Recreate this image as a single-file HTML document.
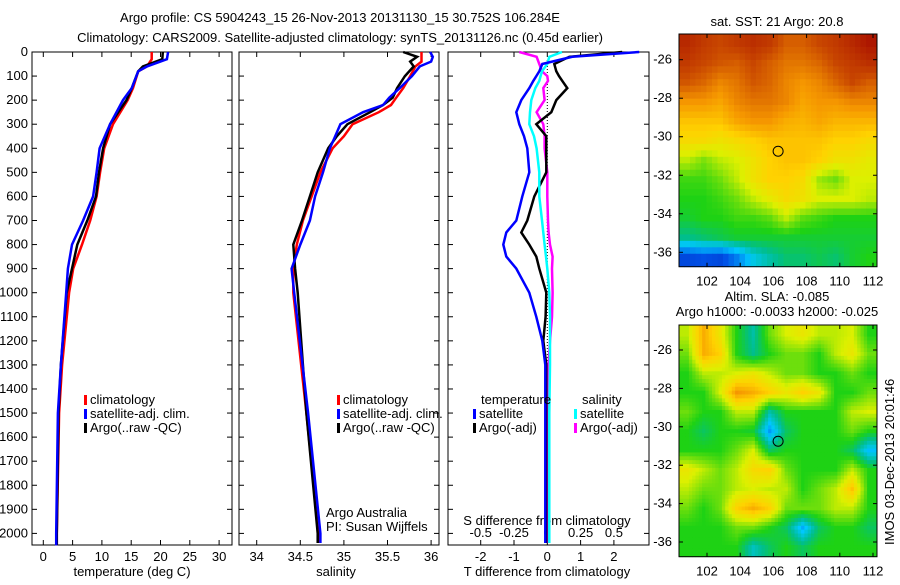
<!DOCTYPE html>
<html><head><meta charset="utf-8"><style>
body{margin:0;background:#fff;width:900px;height:580px;overflow:hidden}
svg{font-family:"Liberation Sans",sans-serif;font-size:13px}
</style></head><body>
<svg id="c" width="900" height="580" xmlns="http://www.w3.org/2000/svg"></svg>
<script>
// ---- data ----
const tDepth=[0,30,60,80,150,200,300,400,500,600,700,800,900,1000,1300,1500,2000,2050];
const tClim=[18.5,18.5,17.7,16.2,15.3,14.4,11.9,10.4,9.7,9.1,8.0,6.6,5.1,4.4,3.2,2.7,2.3,2.3];
const tSat=[21.3,21.1,17.7,16.2,15.1,13.6,11.4,9.6,9.1,8.5,6.8,4.9,4.2,3.9,3.0,2.5,2.2,2.2];
const tArgo=[20.4,20.3,17.0,16.2,15.1,14.2,11.4,10.2,9.5,9.0,7.5,5.8,4.9,4.0,3.0,2.6,2.3,2.3];
const sDepth=[0,20,40,60,100,150,190,220,250,300,350,400,500,600,700,800,900,1000,1500,2000,2040];
const sClim=[35.89,35.89,35.89,35.82,35.76,35.68,35.6,35.54,35.40,35.10,35.0,34.87,34.73,34.63,34.53,34.46,34.42,34.42,34.57,34.71,34.71];
const sSat=[35.99,36.02,36.0,35.87,35.78,35.64,35.52,35.45,35.22,34.96,34.9,34.84,34.76,34.67,34.61,34.50,34.40,34.43,34.59,34.73,34.73];
const sArgo=[35.68,35.84,35.76,35.80,35.70,35.61,35.56,35.45,35.30,35.04,34.92,34.82,34.70,34.61,34.52,34.42,34.44,34.47,34.57,34.70,34.70];
const dDepth=[0,20,50,80,100,120,150,200,250,300,350,400,500,600,700,750,800,850,900,1000,1100,1200,1300,1500,2000,2040];
const dTSat=[2.76,0.75,-0.15,-0.24,-0.33,-0.42,-0.54,-0.78,-0.93,-0.84,-0.7,-0.6,-0.54,-0.75,-0.93,-1.23,-1.32,-1.23,-0.93,-0.54,-0.33,-0.15,-0.06,-0.06,-0.06,-0.06];
const dTArgo=[2.25,0.66,0.21,0.27,0.35,0.45,0.6,0.27,0.12,-0.33,-0.03,-0.03,-0.03,-0.39,-0.6,-0.78,-0.54,-0.33,-0.24,-0.03,-0.05,-0.12,-0.03,-0.03,-0.03,-0.03];
const dSSat=[0.11,0.015,0,-0.04,-0.05,-0.06,-0.09,-0.12,-0.13,-0.135,-0.1,-0.08,-0.06,-0.06,-0.04,-0.03,-0.02,-0.01,0,0.015,0.02,0.02,0.02,0.015,0.015,0.015];
const dSArgo=[-0.21,-0.08,-0.06,-0.04,0,0.005,-0.03,-0.02,-0.08,-0.03,-0.02,-0.02,0,0,0.005,0.01,0.02,0.04,0.035,0.04,0.035,0.02,0.01,0.01,0.005,0.005];
const sstGrid=[
[0.93,0.9,0.88,0.9,0.92,0.9,0.85,0.85,0.88,0.9,0.93,0.96],
[0.9,0.88,0.86,0.85,0.88,0.85,0.82,0.82,0.84,0.88,0.9,0.92],
[0.86,0.84,0.8,0.82,0.86,0.84,0.8,0.78,0.8,0.84,0.88,0.85],
[0.78,0.78,0.76,0.8,0.82,0.82,0.8,0.76,0.78,0.78,0.8,0.8],
[0.72,0.72,0.72,0.76,0.78,0.78,0.75,0.74,0.76,0.74,0.74,0.74],
[0.68,0.68,0.66,0.68,0.7,0.72,0.72,0.72,0.72,0.7,0.7,0.68],
[0.6,0.56,0.6,0.62,0.66,0.7,0.72,0.72,0.7,0.66,0.66,0.64],
[0.52,0.52,0.55,0.6,0.66,0.7,0.7,0.68,0.58,0.55,0.62,0.62],
[0.5,0.5,0.52,0.55,0.6,0.64,0.68,0.66,0.62,0.62,0.62,0.6],
[0.48,0.5,0.5,0.52,0.52,0.54,0.6,0.54,0.52,0.5,0.5,0.5],
[0.42,0.44,0.46,0.48,0.48,0.48,0.48,0.48,0.48,0.48,0.48,0.48],
[0.18,0.2,0.18,0.25,0.35,0.4,0.44,0.44,0.46,0.44,0.48,0.5]];
const slaGrid=[
[0.6,0.75,0.65,0.5,0.4,0.55,0.62,0.65,0.6,0.6,0.62,0.5],
[0.55,0.75,0.7,0.5,0.42,0.5,0.55,0.55,0.5,0.6,0.65,0.55],
[0.5,0.6,0.6,0.62,0.65,0.6,0.55,0.55,0.5,0.5,0.55,0.5],
[0.5,0.5,0.62,0.78,0.75,0.7,0.65,0.7,0.65,0.5,0.5,0.55],
[0.55,0.5,0.5,0.6,0.6,0.4,0.5,0.5,0.5,0.5,0.6,0.62],
[0.5,0.45,0.5,0.5,0.48,0.28,0.45,0.5,0.5,0.5,0.55,0.5],
[0.5,0.5,0.5,0.55,0.62,0.45,0.5,0.5,0.5,0.5,0.45,0.32],
[0.65,0.6,0.55,0.6,0.68,0.7,0.55,0.5,0.5,0.5,0.6,0.5],
[0.6,0.55,0.55,0.6,0.62,0.6,0.6,0.5,0.55,0.6,0.72,0.5],
[0.55,0.5,0.55,0.7,0.75,0.7,0.55,0.55,0.55,0.6,0.6,0.5],
[0.5,0.5,0.5,0.55,0.55,0.5,0.45,0.3,0.45,0.5,0.5,0.45],
[0.5,0.5,0.5,0.5,0.38,0.45,0.5,0.45,0.5,0.5,0.5,0.5]];
const depthTicks=[0,100,200,300,400,500,600,700,800,900,1000,1100,1200,1300,1400,1500,1600,1700,1800,1900,2000];
const tTicks=[0,5,10,15,20,25,30];
const sTicks=[34,34.5,35,35.5,36];
const dTTicks=[-2,-1,0,1,2];
const dSTicks=[-0.5,-0.25,0,0.25,0.5];
const lonTicks=[102,104,106,108,110,112];
const latTicks=[-26,-28,-30,-32,-34,-36];

// ---- helpers ----
const svg=document.getElementById('c');
const NS='http://www.w3.org/2000/svg';
function mk(tag,at,txt){const e=document.createElementNS(NS,tag);for(const k in at)e.setAttribute(k,at[k]);if(txt!==undefined)e.textContent=txt;svg.appendChild(e);return e;}
const yD=d=>52+d*0.2407;
const xT=t=>43.3+5.86*t;
const xS=s=>256.7+87.2*(s-34);
const xDT=t=>547.3+33.3*t;
const xDS=s=>547.3+133.2*s;
const x1Lon=l=>707+(l-102)*16.6;
const y1Lat=(l)=>59.7+(-26-l)*19.26;
const y2Lat=(l)=>350+(-26-l)*19.2;

function frame(x0,x1,y0,y1,name){const r=mk('rect',{x:x0,y:y0,width:x1-x0,height:y1-y0,fill:'none',stroke:'#000','stroke-width':1});}
function line(xs,depths,fx,color,name){const p=mk('polyline',{points:xs.map((v,i)=>fx(v).toFixed(1)+','+yD(depths[i]).toFixed(1)).join(' '),fill:'none',stroke:color,'stroke-width':2.5});}

// titles
let t=mk('text',{x:340,y:22,'text-anchor':'middle'},'Argo profile: CS 5904243_15 26-Nov-2013 20131130_15 30.752S 106.284E');

t=mk('text',{x:340,y:42,'text-anchor':'middle'},'Climatology: CARS2009. Satellite-adjusted climatology: synTS_20131126.nc (0.45d earlier)');


// panels
frame(32,232,52,545,'temperature-panel');
frame(239,439,52,545,'salinity-panel');
frame(448,649,52,545,'difference-panel');
depthTicks.forEach(d=>{
  const l=mk('text',{x:28,y:yD(d)+4,'text-anchor':'end'},String(d));
  
  [[32,1],[232,-1],[239,1],[439,-1],[448,1],[649,-1]].forEach(([x,s])=>mk('line',{x1:x,x2:x+5*s,y1:yD(d),y2:yD(d),stroke:'#000'}));
});
function xticks(ticks,fx,y0,y1,fmt,name){ticks.forEach(v=>{const x=fx(v);mk('line',{x1:x,x2:x,y1:y1,y2:y1-5,stroke:'#000'});mk('line',{x1:x,x2:x,y1:y0,y2:y0+5,stroke:'#000'});
 const l=mk('text',{x:x,y:y1+16,'text-anchor':'middle'},fmt(v));});}
xticks(tTicks,xT,52,545,String,'temperature-tick-label');
xticks(sTicks,xS,52,545,String,'salinity-tick-label');
xticks(dTTicks,xDT,52,545,String,'t-diff-tick-label');
dSTicks.forEach(v=>{const l=mk('text',{x:xDS(v),y:537,'text-anchor':'middle'},String(v));});
t=mk('text',{x:132,y:576,'text-anchor':'middle'},'temperature (deg C)');
t=mk('text',{x:336,y:576,'text-anchor':'middle'},'salinity');
t=mk('text',{x:547,y:576,'text-anchor':'middle'},'T difference from climatology');
t=mk('text',{x:547,y:525,'text-anchor':'middle'},'S difference from climatology');

const z=mk('line',{x1:547.3,x2:547.3,y1:60,y2:yD(1400),stroke:'#000','stroke-dasharray':'1,2'});

// series
line(tClim,tDepth,xT,'#f00','temp-climatology-line');
line(tArgo,tDepth,xT,'#000','temp-argo-line');
line(tSat,tDepth,xT,'#00f','temp-satellite-line');
line(sClim,sDepth,xS,'#f00','sal-climatology-line');
line(sArgo,sDepth,xS,'#000','sal-argo-line');
line(sSat,sDepth,xS,'#00f','sal-satellite-line');
line(dSArgo,dDepth,xDS,'#f0f','s-diff-argo-line');
line(dTArgo,dDepth,xDT,'#000','t-diff-argo-line');
line(dSSat,dDepth,xDS,'#0ff','s-diff-satellite-line');
line(dTSat,dDepth,xDT,'#00f','t-diff-satellite-line');

// legends
function leg(x,y,c,txt,name){const r=mk('rect',{x:x,y:y-9,width:3,height:10,fill:c});
 const l=mk('text',{x:x+6,y:y},txt);}
[84,337].forEach(x=>{leg(x,404,'#f00','climatology','legend-climatology');leg(x,418,'#00f','satellite-adj. clim.','legend-satellite-adj');leg(x,432,'#000','Argo(..raw -QC)','legend-argo');});
t=mk('text',{x:481,y:404},'temperature');
t=mk('text',{x:582,y:404},'salinity');
leg(473,418,'#00f','satellite','legend-t-satellite');leg(473,432,'#000','Argo(-adj)','legend-t-argo');
leg(574,418,'#0ff','satellite','legend-s-satellite');leg(574,432,'#f0f','Argo(-adj)','legend-s-argo');
t=mk('text',{x:326,y:517},'Argo Australia');
t=mk('text',{x:326,y:531},'PI: Susan Wijffels');

// colormap
function jet(v){const stops=[[0,[0,0,140]],[0.2,[0,80,230]],[0.33,[0,200,255]],[0.42,[0,190,140]],[0.5,[30,210,20]],[0.62,[220,240,0]],[0.7,[255,210,0]],[0.78,[245,150,0]],[0.88,[200,70,0]],[1,[160,0,0]]];
 for(let i=1;i<stops.length;i++){if(v<=stops[i][0]){const a=stops[i-1],b=stops[i],f=(v-a[0])/(b[0]-a[0]);return 'rgb('+a[1].map((c,k)=>Math.round(c+(b[1][k]-c)*f)).join(',')+')';}}return 'rgb(160,0,0)';}
function sample(grid,fi,fj){const nr=grid.length,nc=grid[0].length;fi=Math.max(0,Math.min(nr-1,fi));fj=Math.max(0,Math.min(nc-1,fj));
 const i0=Math.floor(fi),j0=Math.floor(fj),i1=Math.min(nr-1,i0+1),j1=Math.min(nc-1,j0+1),a=fi-i0,b=fj-j0;
 return grid[i0][j0]*(1-a)*(1-b)+grid[i0][j1]*(1-a)*b+grid[i1][j0]*a*(1-b)+grid[i1][j1]*a*b;}
function map(grid,x0,x1,y0,y1,up,name){const nr=grid.length*up,nc=grid[0].length*up,w=(x1-x0)/nc,h=(y1-y0)/nr;
 for(let i=0;i<nr;i++)for(let j=0;j<nc;j++){const v=sample(grid,(i+0.5)/up-0.5,(j+0.5)/up-0.5);
  const r=mk('rect',{x:(x0+j*w).toFixed(2),y:(y0+i*h).toFixed(2),width:(w+0.4).toFixed(2),height:(h+0.4).toFixed(2),fill:jet(v)});
  
  }
 frame(x0,x1,y0,y1,name+'-frame');}
map(sstGrid,679,877,34,266.7,3,'sst-map');
map(slaGrid,679,877,325,556.7,5,'sla-map');
function mapAxes(y0,y1,fy,name){lonTicks.forEach(l=>{const x=x1Lon(l);mk('line',{x1:x,x2:x,y1:y0,y2:y0+4,stroke:'#000'});mk('line',{x1:x,x2:x,y1:y1,y2:y1-4,stroke:'#000'});
 const tx=mk('text',{x:x,y:y1+19,'text-anchor':'middle'},String(l));});
 latTicks.forEach(l=>{const y=fy(l);mk('line',{x1:877,x2:873,y1:y,y2:y,stroke:'#000'});mk('line',{x1:679,x2:683,y1:y,y2:y,stroke:'#000'});
 const tx=mk('text',{x:672,y:y+4,'text-anchor':'end'},String(l));});}
mapAxes(34,266.7,y1Lat,'sst-map');
mapAxes(325,556.7,y2Lat,'sla-map');
let c1=mk('circle',{cx:x1Lon(106.284),cy:y1Lat(-30.752),r:5,fill:'none',stroke:'#000'});
let c2=mk('circle',{cx:x1Lon(106.284),cy:y2Lat(-30.752),r:5,fill:'none',stroke:'#000'});
t=mk('text',{x:777,y:26,'text-anchor':'middle'},'sat. SST: 21 Argo: 20.8');
t=mk('text',{x:777,y:301,'text-anchor':'middle'},'Altim. SLA: -0.085');
t=mk('text',{x:777,y:316,'text-anchor':'middle'},'Argo h1000: -0.0033 h2000: -0.025');
t=mk('text',{x:0,y:0,transform:'translate(894,545) rotate(-90)'},'IMOS 03-Dec-2013 20:01:46');
</script>
</body></html>
